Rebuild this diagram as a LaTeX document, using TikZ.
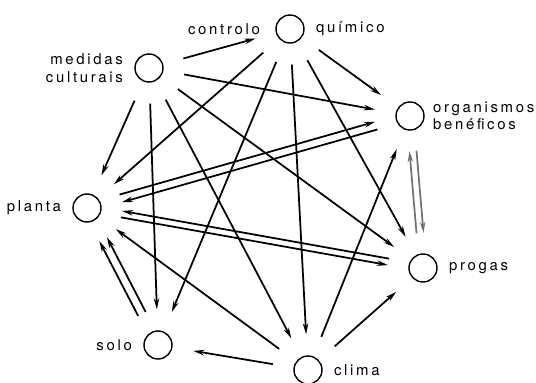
\documentclass[tikz,border=0pt]{standalone}
\usepackage{fontspec}
\setmainfont{TeX Gyre Heros}[LetterSpace=18]
\usetikzlibrary{arrows.meta,calc}

\begin{document}
\begin{tikzpicture}[
    x=0.2mm, y=-0.2mm,
    every node/.style={font=\fontsize{8.5}{10}\selectfont},
    every label/.style={inner sep=0pt},
    label distance=2.2mm,
    ent/.style={draw, circle, line width=0.8pt, minimum size=5.6mm, inner sep=0pt},
    rel/.style={line width=1pt, -{Stealth[length=2.2mm, width=1.1mm]},
      shorten <=4.2mm, shorten >=4.2mm},
    par/.style={rel, shorten <=7mm, shorten >=7mm},
  ]
    \useasboundingbox (0,0) rectangle (536,383);

    % === factors ===
    \node[ent, label={[label distance=3mm]left:controlo}, label=right:químico] (cq) at (290,29) {};
    \node[ent, label={[align=right]left:{medidas\\culturais}}] (mc) at (149,68) {};
    \node[ent, label={[align=left, label distance=1.6mm]right:{organismos\\benéficos}}] (ob) at (410,116) {};
    \node[ent, label=left:planta] (pl) at (87,208) {};
    \node[ent, label=right:progas] (pr) at (423,268) {};
    \node[ent, label=left:solo] (so) at (158,345) {};
    \node[ent, label=right:clima] (cl) at (308,370) {};

    % === single influences ===
    \foreach \t in {cq,ob,pr,pl,so,cl} {
      \draw[rel] (mc) -- (\t);
    }
    \foreach \t in {ob,pl,so,cl,pr} {
      \draw[rel] (cq) -- (\t);
    }
    \foreach \t in {ob,pr,so,pl} {
      \draw[rel] (cl) -- (\t);
    }

    % --- paired lines ---
    % planta <-> organismos beneficos
    \draw[par] ($(pl)!0.8mm!90:(ob)$) -- ($(ob)!0.8mm!-90:(pl)$);
    \draw[par] ($(ob)!0.8mm!90:(pl)$) -- ($(pl)!0.8mm!-90:(ob)$);
    % planta <-> progas
    \draw[par] ($(pr)!0.65mm!-90:(pl)$) -- ($(pl)!0.65mm!90:(pr)$);
    \draw[par] ($(pl)!0.65mm!-90:(pr)$) -- ($(pr)!0.65mm!90:(pl)$);
    % organismos beneficos <-> progas
    \draw[par, black!55] ($(ob)!0.7mm!90:(pr)$) -- ($(pr)!0.7mm!-90:(ob)$);
    \draw[par, black!55] ($(pr)!0.7mm!90:(ob)$) -- ($(ob)!0.7mm!-90:(pr)$);
    % solo -> planta
    \draw[par] ($(so)!0.85mm!90:(pl)$) -- ($(pl)!0.85mm!-90:(so)$);
    \draw[par] ($(so)!0.85mm!-90:(pl)$) -- ($(pl)!0.85mm!90:(so)$);
  \end{tikzpicture}
\end{document}
